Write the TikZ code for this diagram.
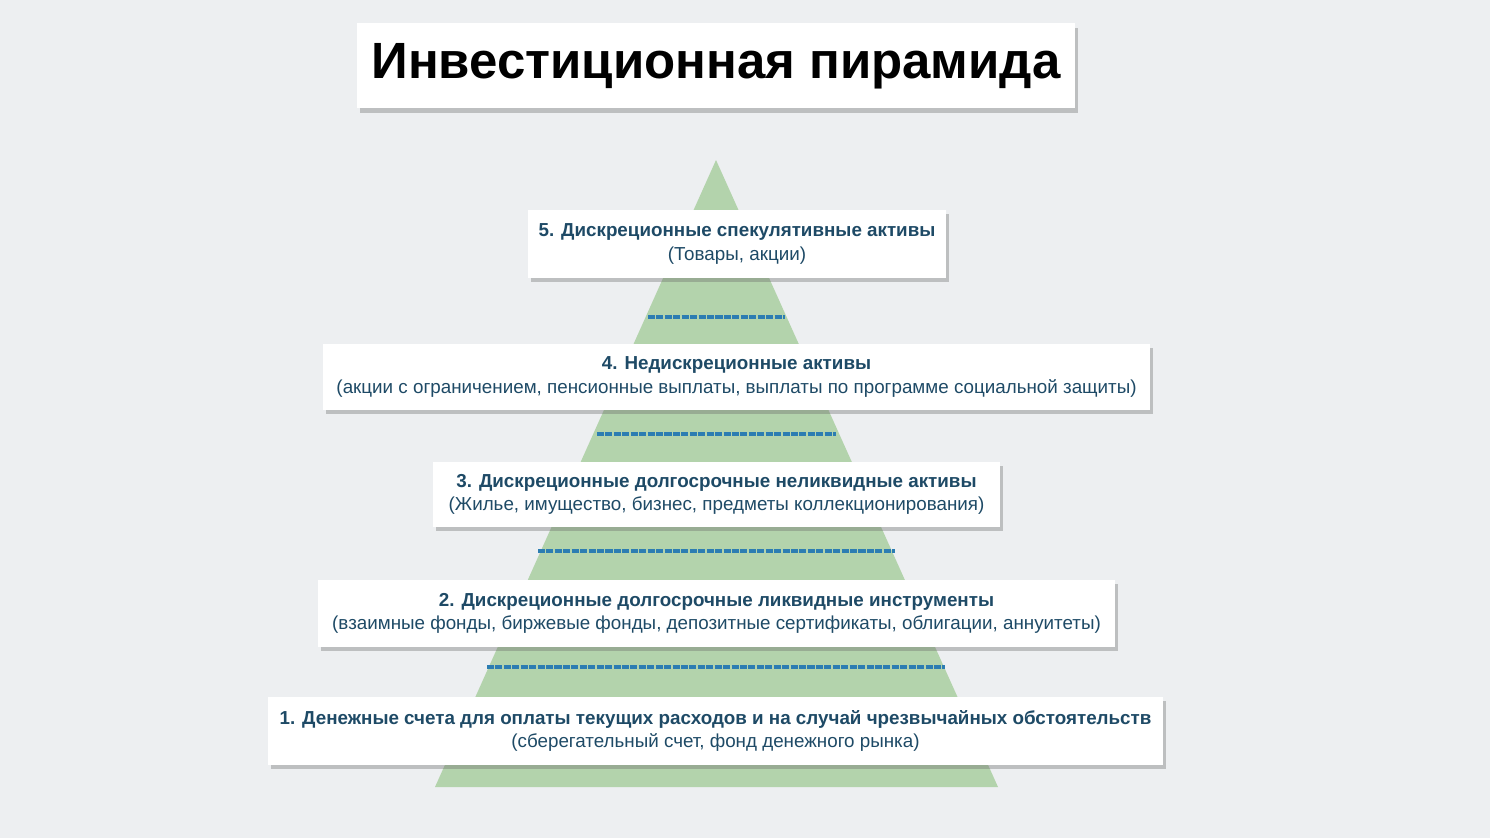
\documentclass[tikz,border=0pt]{standalone}
\usepackage{fontspec}
\setmainfont{Liberation Sans}
\usetikzlibrary{shadows}
\definecolor{bgc}{HTML}{EDEFF1}
\definecolor{grn}{HTML}{B3D3AC}
\definecolor{txt}{HTML}{1E4A66}
\definecolor{dsh}{HTML}{2C7DB2}
\tikzset{
 card/.style={fill=white, draw=none, drop shadow={shadow xshift=1.5pt, shadow yshift=-2.5pt, opacity=0.35, fill=black!60}, inner sep=0pt, align=center, text=txt, font=\fontsize{10.7pt}{13.5pt}\selectfont},
 sep/.style={dsh, line width=2pt, dash pattern=on 4pt off 0.8pt}
}
\begin{document}
\begin{tikzpicture}[x=0.02cm,y=-0.02cm]
\fill[bgc] (0,0) rectangle (1490,838);
\useasboundingbox (0,0) rectangle (1490,838);
\fill[grn] (716,160) -- (998,787) -- (435,787) -- cycle;
\node[card, minimum width=718*0.02cm, minimum height=85*0.02cm, text=black, font=\fontsize{29pt}{33pt}\selectfont\bfseries] (title) at (716,66) {Инвестиционная пирамида};
\draw[sep] (648,317) -- (785,317);
\draw[sep] (597,434) -- (836,434);
\draw[sep] (538,551) -- (895,551);
\draw[sep] (487,667) -- (945,667);
\node[card, minimum width=418*0.02cm, minimum height=68*0.02cm] (l5) at (737,244) {\textbf{5. Дискреционные спекулятивные активы}\\(Товары, акции)};
\node[card, minimum width=827*0.02cm, minimum height=66*0.02cm] (l4) at (736.5,377) {\textbf{4. Недискреционные активы}\\(акции с ограничением, пенсионные выплаты, выплаты по программе социальной защиты)};
\node[card, minimum width=567*0.02cm, minimum height=65*0.02cm] (l3) at (716.5,494.5) {\textbf{3. Дискреционные долгосрочные неликвидные активы}\\(Жилье, имущество, бизнес, предметы коллекционирования)};
\node[card, minimum width=797*0.02cm, minimum height=67*0.02cm] (l2) at (716.5,613.5) {\textbf{2. Дискреционные долгосрочные ликвидные инструменты}\\(взаимные фонды, биржевые фонды, депозитные сертификаты, облигации, аннуитеты)};
\node[card, minimum width=895*0.02cm, minimum height=68*0.02cm] (l1) at (715.5,731) {\textbf{1. Денежные счета для оплаты текущих расходов и на случай чрезвычайных обстоятельств}\\(сберегательный счет, фонд денежного рынка)};
\end{tikzpicture}
\end{document}
